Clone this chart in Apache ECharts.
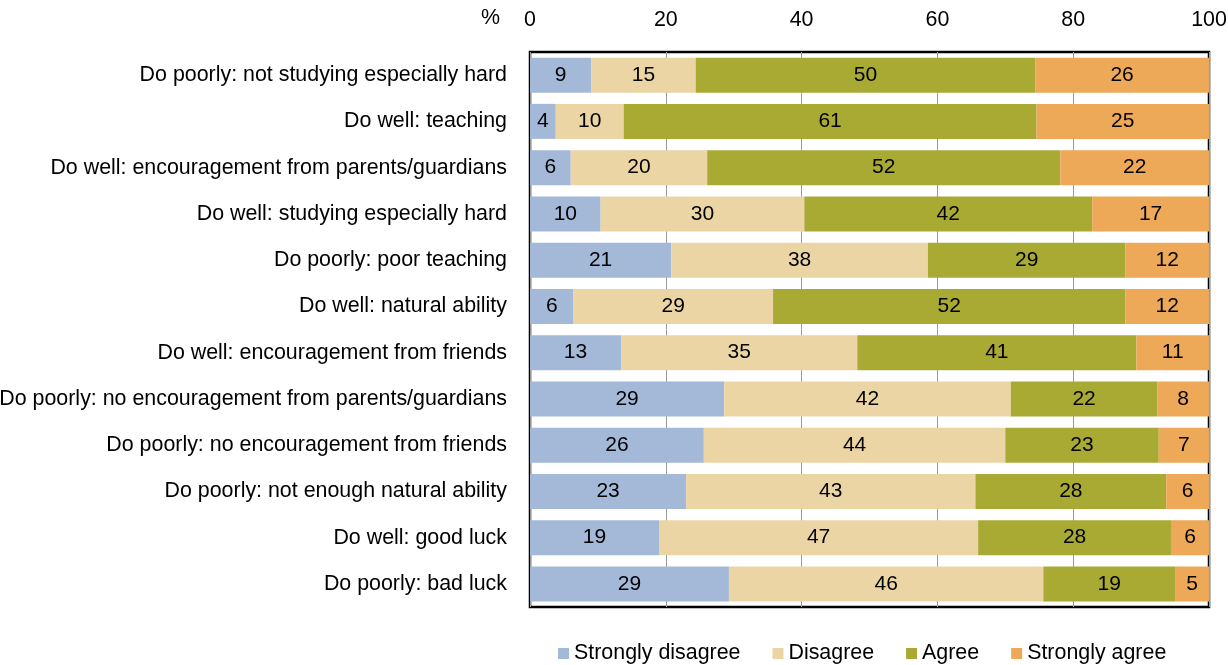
<!DOCTYPE html>
<html>
<head>
<meta charset="utf-8">
<script src="https://cdn.jsdelivr.net/npm/echarts@6/dist/echarts.min.js"></script>
<style>html,body{margin:0;padding:0;background:#fff}#c{width:1228px;height:665px}</style>
</head>
<body>
<div id="c"></div>
<script>
const categories = [
  'Do poorly: not studying especially hard',
  'Do well: teaching',
  'Do well: encouragement from parents/guardians',
  'Do well: studying especially hard',
  'Do poorly: poor teaching',
  'Do well: natural ability',
  'Do well: encouragement from friends',
  'Do poorly: no encouragement from parents/guardians',
  'Do poorly: no encouragement from friends',
  'Do poorly: not enough natural ability',
  'Do well: good luck',
  'Do poorly: bad luck'
];
const stronglyDisagree = [9.0, 3.8, 6.0, 10.4, 20.8, 6.4, 13.4, 28.6, 25.6, 23.0, 19.0, 29.3];
const disagree         = [15.4, 10.0, 20.1, 30.0, 37.8, 29.4, 34.8, 42.2, 44.4, 42.6, 47.0, 46.3];
const agree            = [50.0, 60.8, 52.0, 42.4, 29.1, 51.9, 41.1, 21.6, 22.6, 28.1, 28.4, 19.4];
const stronglyAgree    = [25.6, 25.4, 21.9, 17.2, 12.3, 12.3, 10.7, 7.6, 7.4, 6.3, 5.6, 5.0];
const seriesNames = ['Strongly disagree', 'Disagree', 'Agree', 'Strongly agree'];
const colors = ['#A4B9D8', '#ECD5A5', '#A8AA34', '#EDA957'];
const font = 'Liberation Sans, Arial, sans-serif';

const chart = echarts.init(document.getElementById('c'), null, {renderer: 'canvas'});
const mk = (name, data, i) => ({
  name, type: 'bar', stack: 'all', data, barWidth: 35,
  itemStyle: {color: colors[i]},
  label: {show: true, position: 'inside', color: '#000', fontSize: 21, fontFamily: font,
          formatter: p => Math.round(p.value)}
});
chart.setOption({
  animation: false,
  textStyle: {fontFamily: font},
  grid: {left: 530, right: 19, top: 52, bottom: 58, show: true, borderColor: '#000', borderWidth: 2.5,
         backgroundColor: 'transparent', containLabel: false, outerBoundsMode: 'none'},
  xAxis: {
    type: 'value', position: 'top', min: 0, max: 100, interval: 20,
    axisLine: {show: false}, axisTick: {show: false},
    axisLabel: {color: '#000', fontSize: 21.4, margin: 21, fontFamily: font},
    splitLine: {show: true, lineStyle: {color: '#999', width: 1}}
  },
  yAxis: {
    type: 'category', data: categories, inverse: true,
    axisLine: {show: false}, axisTick: {show: false},
    axisLabel: {color: '#000', fontSize: 21.4, margin: 23, fontFamily: font}
  },
  legend: {
    data: seriesNames, left: 553, top: 638, itemWidth: 11, itemHeight: 11, itemGap: 32,
    icon: 'rect', textStyle: {color: '#000', fontSize: 21.4, fontFamily: font}
  },
  graphic: [{type: 'text', left: 481, top: 8, style: {text: '%', fill: '#000', font: '21.4px ' + font}}],
  series: [
    mk(seriesNames[0], stronglyDisagree, 0),
    mk(seriesNames[1], disagree, 1),
    mk(seriesNames[2], agree, 2),
    mk(seriesNames[3], stronglyAgree, 3)
  ]
});
</script>
</body>
</html>
